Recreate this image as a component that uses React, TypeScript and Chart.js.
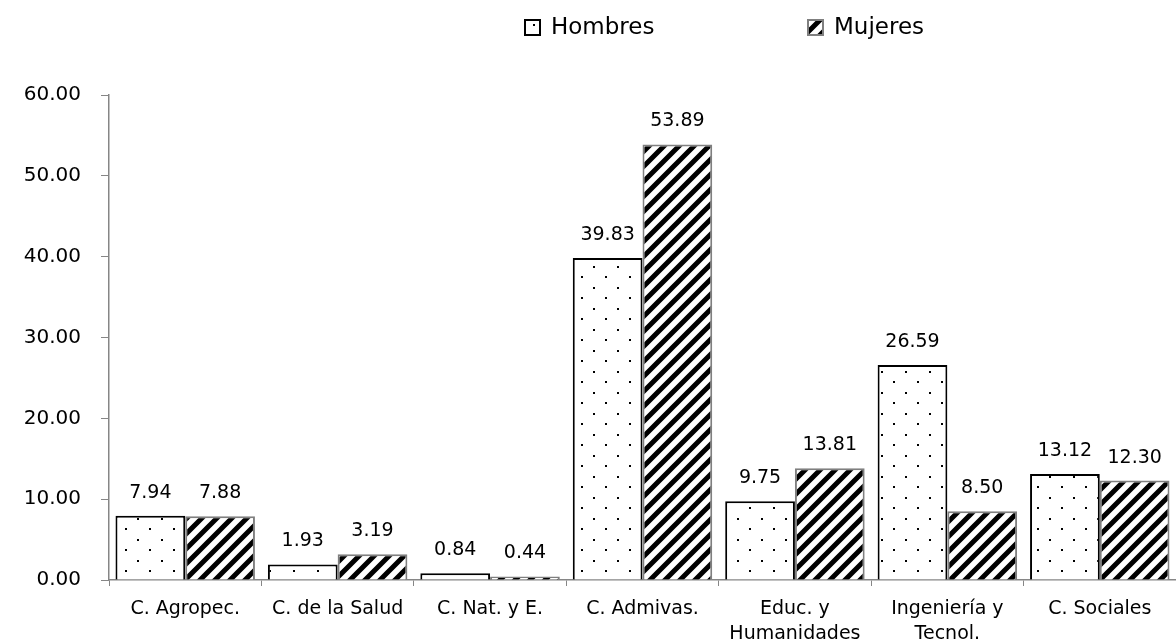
import React, { useEffect, useRef } from "react";
import { Chart, registerables } from "chart.js";
Chart.register(...registerables);

const categories: (string | string[])[] = [
  "C. Agropec.",
  "C. de la Salud",
  "C. Nat. y E.",
  "C. Admivas.",
  ["Educ. y", "Humanidades"],
  ["Ingeniería y", "Tecnol."],
  "C. Sociales",
];
const hombres = [7.94, 1.93, 0.84, 39.83, 9.75, 26.59, 13.12];
const mujeres = [7.88, 3.19, 0.44, 53.89, 13.81, 8.5, 12.3];
const seriesNames = ["Hombres", "Mujeres"];
const yTicks = [0, 10, 20, 30, 40, 50, 60];

const FONT = "'DejaVu Sans', sans-serif";
const AXIS_GRAY = "#868686";

function dotPattern(ctx: CanvasRenderingContext2D) {
  const c = document.createElement("canvas");
  c.width = 24;
  c.height = 21;
  const g = c.getContext("2d")!;
  g.fillStyle = "#ffffff";
  g.fillRect(0, 0, 24, 21);
  g.fillStyle = "#000000";
  g.fillRect(5, 3, 2, 2);
  g.fillRect(17, 14, 2, 2);
  return ctx.createPattern(c, "repeat")!;
}

function stripePattern(ctx: CanvasRenderingContext2D) {
  const s = 15;
  const c = document.createElement("canvas");
  c.width = s;
  c.height = s;
  const g = c.getContext("2d")!;
  g.fillStyle = "#ffffff";
  g.fillRect(0, 0, s, s);
  g.strokeStyle = "#000000";
  g.lineWidth = 5;
  g.beginPath();
  g.moveTo(-s, 2 * s);
  g.lineTo(2 * s, -s);
  g.moveTo(-s, s);
  g.lineTo(s, -s);
  g.moveTo(0, 2 * s);
  g.lineTo(2 * s, 0);
  g.stroke();
  return ctx.createPattern(c, "repeat")!;
}

export default function App() {
  const ref = useRef<HTMLCanvasElement | null>(null);

  useEffect(() => {
    document.body.style.margin = "0";
    const canvas = ref.current!;
    const ctx = canvas.getContext("2d")!;
    const pDots = dotPattern(ctx);
    const pStripes = stripePattern(ctx);

    const dataLabels = {
      id: "dataLabels",
      afterDatasetsDraw(chart: any) {
        const c = chart.ctx;
        c.save();
        c.font = `19px ${FONT}`;
        c.fillStyle = "#000";
        c.textAlign = "center";
        c.textBaseline = "alphabetic";
        chart.data.datasets.forEach((ds: any, di: number) => {
          const meta = chart.getDatasetMeta(di);
          meta.data.forEach((bar: any, i: number) => {
            c.fillText(Number(ds.data[i]).toFixed(2), bar.x, bar.y - 18);
          });
        });
        c.restore();
      },
    };

    const customLegend = {
      id: "customLegend",
      afterDraw(chart: any) {
        const c = chart.ctx;
        const items = [
          { x: 525, fill: pDots, stroke: "#000" },
          { x: 808, fill: pStripes, stroke: "#7f7f7f" },
        ];
        c.save();
        c.font = `23px ${FONT}`;
        c.textBaseline = "middle";
        c.textAlign = "left";
        items.forEach((it, i) => {
          c.fillStyle = it.fill;
          c.fillRect(it.x, 20, 15, 15);
          c.strokeStyle = it.stroke;
          c.lineWidth = 2;
          c.strokeRect(it.x, 20, 15, 15);
          c.fillStyle = "#000";
          c.fillText(chart.data.datasets[i].label, it.x + 26, 28);
        });
        c.restore();
      },
    };

    const chart = new Chart(canvas, {
      type: "bar",
      data: {
        labels: categories,
        datasets: [
          {
            label: seriesNames[0],
            data: hombres,
            backgroundColor: pDots,
            borderColor: "#000000",
            borderWidth: 2,
            categoryPercentage: 0.915,
            barPercentage: 1,
          },
          {
            label: seriesNames[1],
            data: mujeres,
            backgroundColor: pStripes,
            borderColor: "#7f7f7f",
            borderWidth: 2,
            categoryPercentage: 0.915,
            barPercentage: 1,
          },
        ],
      },
      options: {
        responsive: false,
        animation: false,
        layout: { padding: { top: 95, left: 0, right: -4, bottom: 0 } },
        plugins: {
          legend: { display: false },
          tooltip: { enabled: false },
        },
        scales: {
          x: {
            grid: {
              display: true,
              drawOnChartArea: false,
              drawTicks: true,
              tickLength: 6,
              color: AXIS_GRAY,
            },
            border: { display: true, color: AXIS_GRAY, width: 1.5 },
            ticks: {
              color: "#000",
              font: { family: FONT, size: 19, lineHeight: 1.33 },
              padding: 10,
              maxRotation: 0,
              autoSkip: false,
            },
            afterFit: (scale: any) => {
              scale.height = 64;
            },
          },
          y: {
            min: 0,
            max: 60,
            afterBuildTicks: (scale: any) => {
              scale.ticks = yTicks.map((v) => ({ value: v }));
            },
            grid: {
              display: true,
              drawOnChartArea: false,
              drawTicks: true,
              tickLength: 8,
              color: AXIS_GRAY,
            },
            border: { display: true, color: AXIS_GRAY, width: 1.5 },
            ticks: {
              color: "#000",
              font: { family: FONT, size: 20 },
              padding: 20,
              callback: (v: any) => Number(v).toFixed(2),
            },
            afterFit: (scale: any) => {
              scale.width = 109;
            },
          },
        },
      },
      plugins: [dataLabels, customLegend],
    });
    return () => chart.destroy();
  }, []);

  return (
    <div style={{ width: 1176, height: 644, overflow: "hidden" }}>
      <canvas ref={ref} width={1176} height={644} />
    </div>
  );
}
